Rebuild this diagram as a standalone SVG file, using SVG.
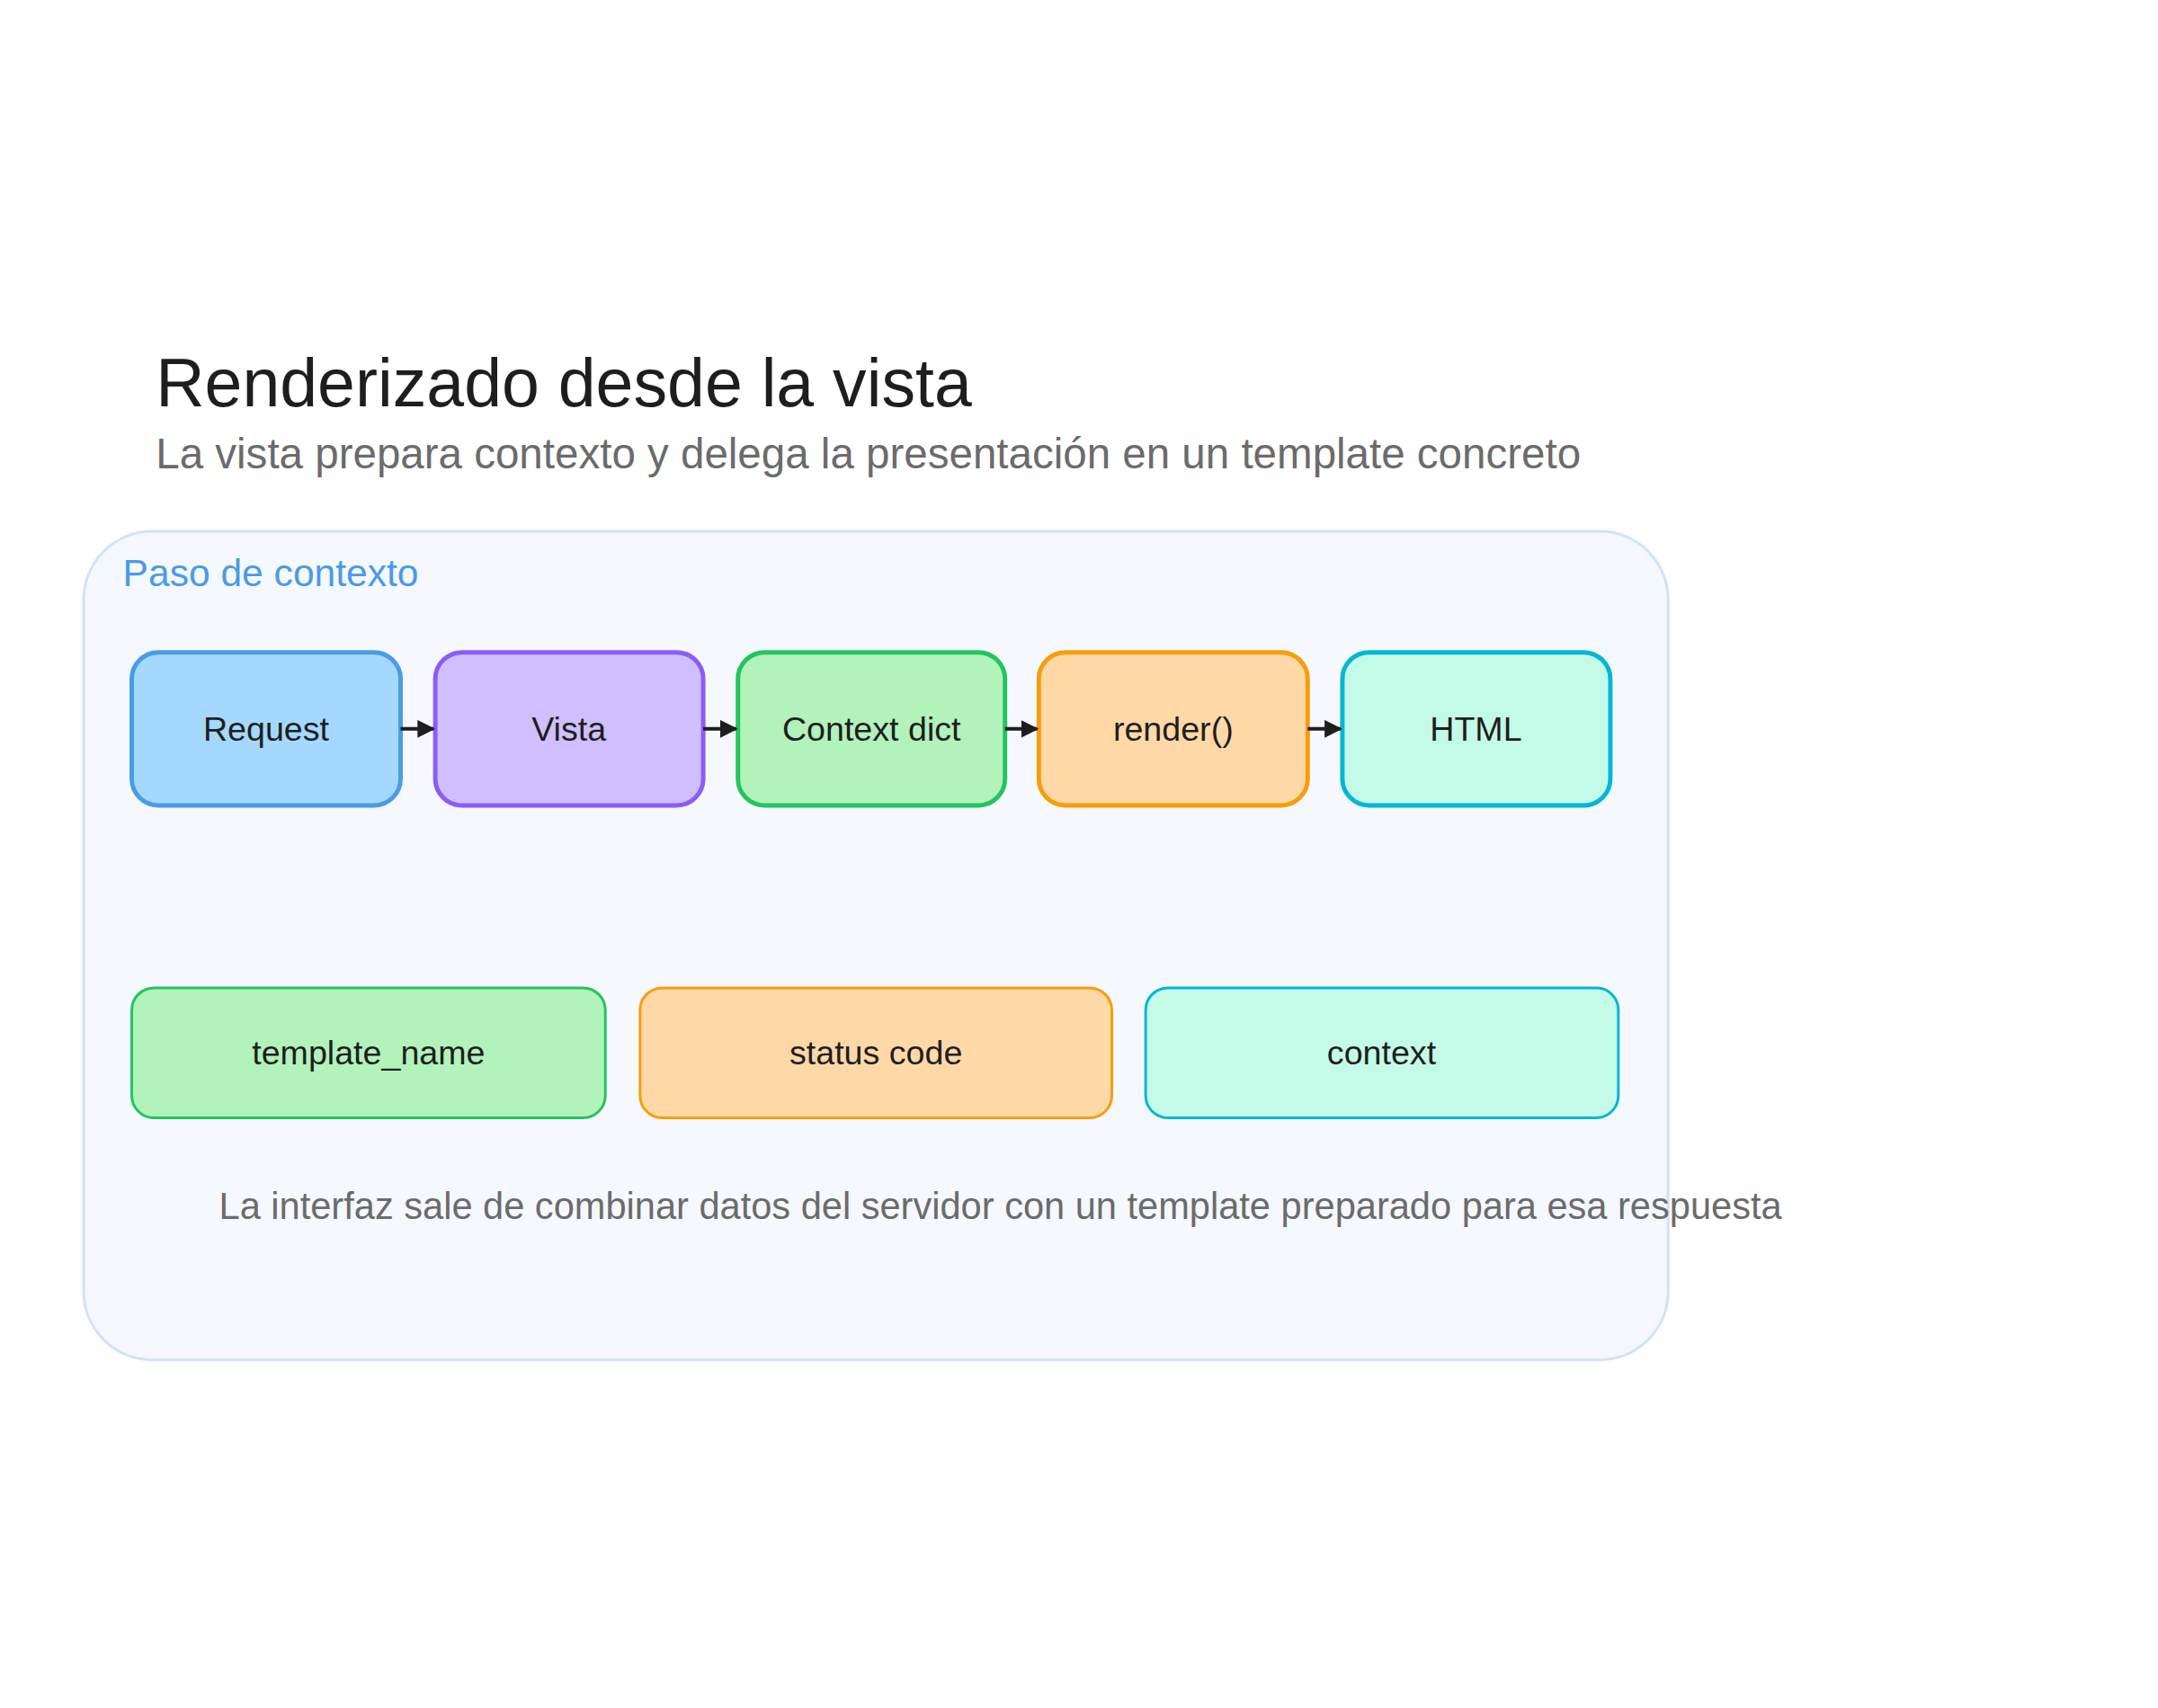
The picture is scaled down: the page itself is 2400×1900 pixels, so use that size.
<svg xmlns="http://www.w3.org/2000/svg" width="2400" height="1900" viewBox="0 0 2400 1900">
<style>
text{font-family:"Liberation Sans","DejaVu Sans",sans-serif}
.n{font-size:38px;fill:#1e1e1e;text-anchor:middle}
.b{stroke-width:5}
.c{stroke:#1e1e1e;stroke-width:4;fill:none}
</style>
<defs><marker id="a" viewBox="0 0 10 10" refX="9" refY="5" markerWidth="5" markerHeight="5" orient="auto"><path d="M0,0L10,5L0,10z" fill="#1e1e1e"/></marker></defs>
<rect width="2400" height="1900" fill="#fff"/>
<g transform="scale(0.99)">
<text x="175" y="457" font-size="76" fill="#1e1e1e">Renderizado desde la vista</text>
<text x="175" y="526" font-size="48" fill="#6b6b6b">La vista prepara contexto y delega la presentación en un template concreto</text>
<g id="container"><rect x="94" y="597" width="1780" height="931" rx="77" fill="#f5f8fe" stroke="#cfe2fa" stroke-width="3"/>
<text x="138" y="659" font-size="43" fill="#4a9be8">Paso de contexto</text></g>
<g id="request"><rect class="b" x="148" y="733" width="302" height="172" rx="30" fill="#a5d8ff" stroke="#4a9be8"/><text class="n" x="299" y="832">Request</text></g>
<g id="vista"><rect class="b" x="489" y="733" width="301" height="172" rx="30" fill="#d0bfff" stroke="#8b5cf6"/><text class="n" x="639" y="832">Vista</text></g>
<g id="context"><rect class="b" x="829" y="733" width="300" height="172" rx="30" fill="#b2f2bb" stroke="#22c55e"/><text class="n" x="979" y="832">Context dict</text></g>
<g id="render"><rect class="b" x="1167" y="733" width="302" height="172" rx="30" fill="#ffd8a8" stroke="#f59e0b"/><text class="n" x="1318" y="832">render()</text></g>
<g id="html"><rect class="b" x="1508" y="733" width="301" height="172" rx="30" fill="#c3fae8" stroke="#06b6d4"/><text class="n" x="1658" y="832">HTML</text></g>
<g id="template_name"><rect x="148" y="1110" width="532" height="146" rx="25" fill="#b2f2bb" stroke="#22c55e" stroke-width="3"/><text class="n" x="414" y="1196">template_name</text></g>
<g id="status"><rect x="719" y="1110" width="530" height="146" rx="25" fill="#ffd8a8" stroke="#f59e0b" stroke-width="3"/><text class="n" x="984" y="1196">status code</text></g>
<g id="ctx"><rect x="1287" y="1110" width="531" height="146" rx="25" fill="#c3fae8" stroke="#06b6d4" stroke-width="3"/><text class="n" x="1552" y="1196">context</text></g>
<g id="connectors">
<line class="c" x1="450" y1="819" x2="487" y2="819" marker-end="url(#a)"/>
<line class="c" x1="790" y1="819" x2="827" y2="819" marker-end="url(#a)"/>
<line class="c" x1="1129" y1="819" x2="1165" y2="819" marker-end="url(#a)"/>
<line class="c" x1="1469" y1="819" x2="1506" y2="819" marker-end="url(#a)"/>
</g>
<text x="246" y="1370" font-size="42" fill="#6b6b6b">La interfaz sale de combinar datos del servidor con un template preparado para esa respuesta</text>
</g>
</svg>
